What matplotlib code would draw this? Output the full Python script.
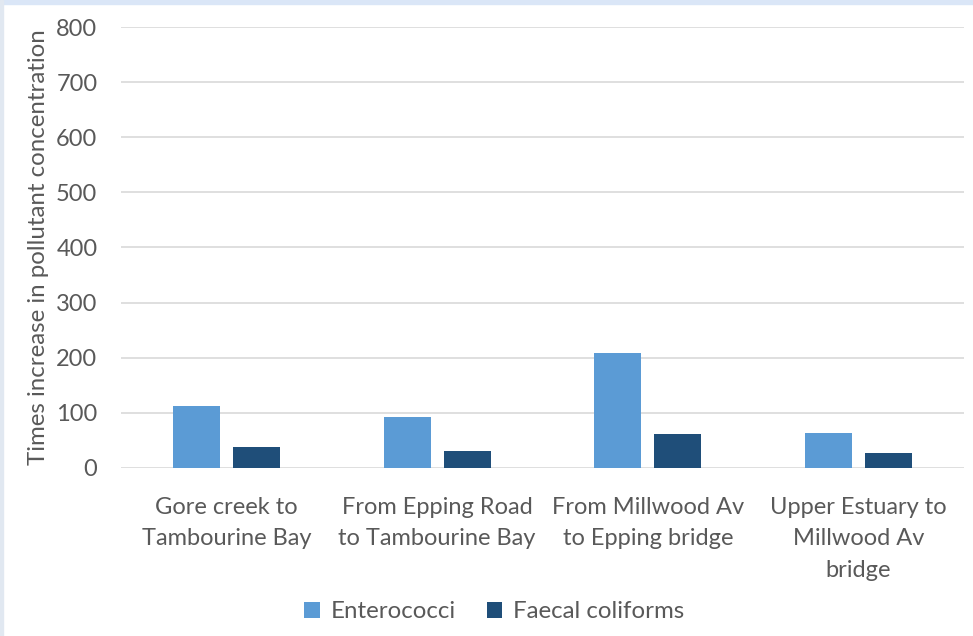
import numpy as np
import matplotlib
matplotlib.use("Agg")
import matplotlib.pyplot as plt
from matplotlib.patches import Rectangle

# data
categories = ["Gore creek to\nTambourine Bay",
              "From Epping Road\nto Tambourine Bay",
              "From Millwood Av\nto Epping bridge",
              "Upper Estuary to\nMillwood Av\nbridge"]
enterococci = [113, 93, 209, 63]
faecal = [38, 31, 62, 27]
y_ticks = [0, 100, 200, 300, 400, 500, 600, 700, 800]

plt.rcParams['font.family'] = ['Lato', 'DejaVu Sans']
teks = "#595959"

fig = plt.figure(figsize=(9.73, 6.36), dpi=100)
ax = fig.add_axes([0.1244, 0.2642, 0.8663, 0.6933])

# bingkai biru muda di atas dan kiri
fig.patches.append(Rectangle((0, 1 - 4/636), 1, 4/636, transform=fig.transFigure,
                             color="#dae6f7", zorder=0))
fig.patches.append(Rectangle((0, 0), 3/973, 1, transform=fig.transFigure,
                             color="#e1e8f1", zorder=0))

x = np.arange(len(categories))
lebar = 0.223
ax.bar(x - 0.142, enterococci, lebar, color="#5b9bd5", label="Enterococci", zorder=3)
ax.bar(x + 0.142, faecal, lebar, color="#1f4e79", label="Faecal coliforms", zorder=3)

ax.set_xlim(-0.5, len(categories) - 0.5)
ax.set_ylim(0, 800)
ax.set_yticks(y_ticks)
ax.set_yticklabels([str(v) for v in y_ticks], fontsize=17, color=teks)
ax.set_xticks(x)
ax.set_xticklabels(categories, fontsize=17, color=teks, linespacing=1.6)
ax.tick_params(axis='both', length=0)
ax.tick_params(axis='y', pad=17)
ax.tick_params(axis='x', pad=21)
for s in ax.spines.values():
    s.set_visible(False)
ax.grid(axis='y', color="#d9d9d9", linewidth=1.2, zorder=0)

ax.set_ylabel("Times increase in pollutant concentration", fontsize=17.3, color=teks, labelpad=5)

fig.legend(loc="center", bbox_to_anchor=(0.508, 1 - 612/636), ncol=2, frameon=False,
           fontsize=17.3, labelcolor=teks, handlelength=0.65, handleheight=0.65,
           columnspacing=1.3, handletextpad=0.45)

fig.savefig("out.png", dpi=100)
